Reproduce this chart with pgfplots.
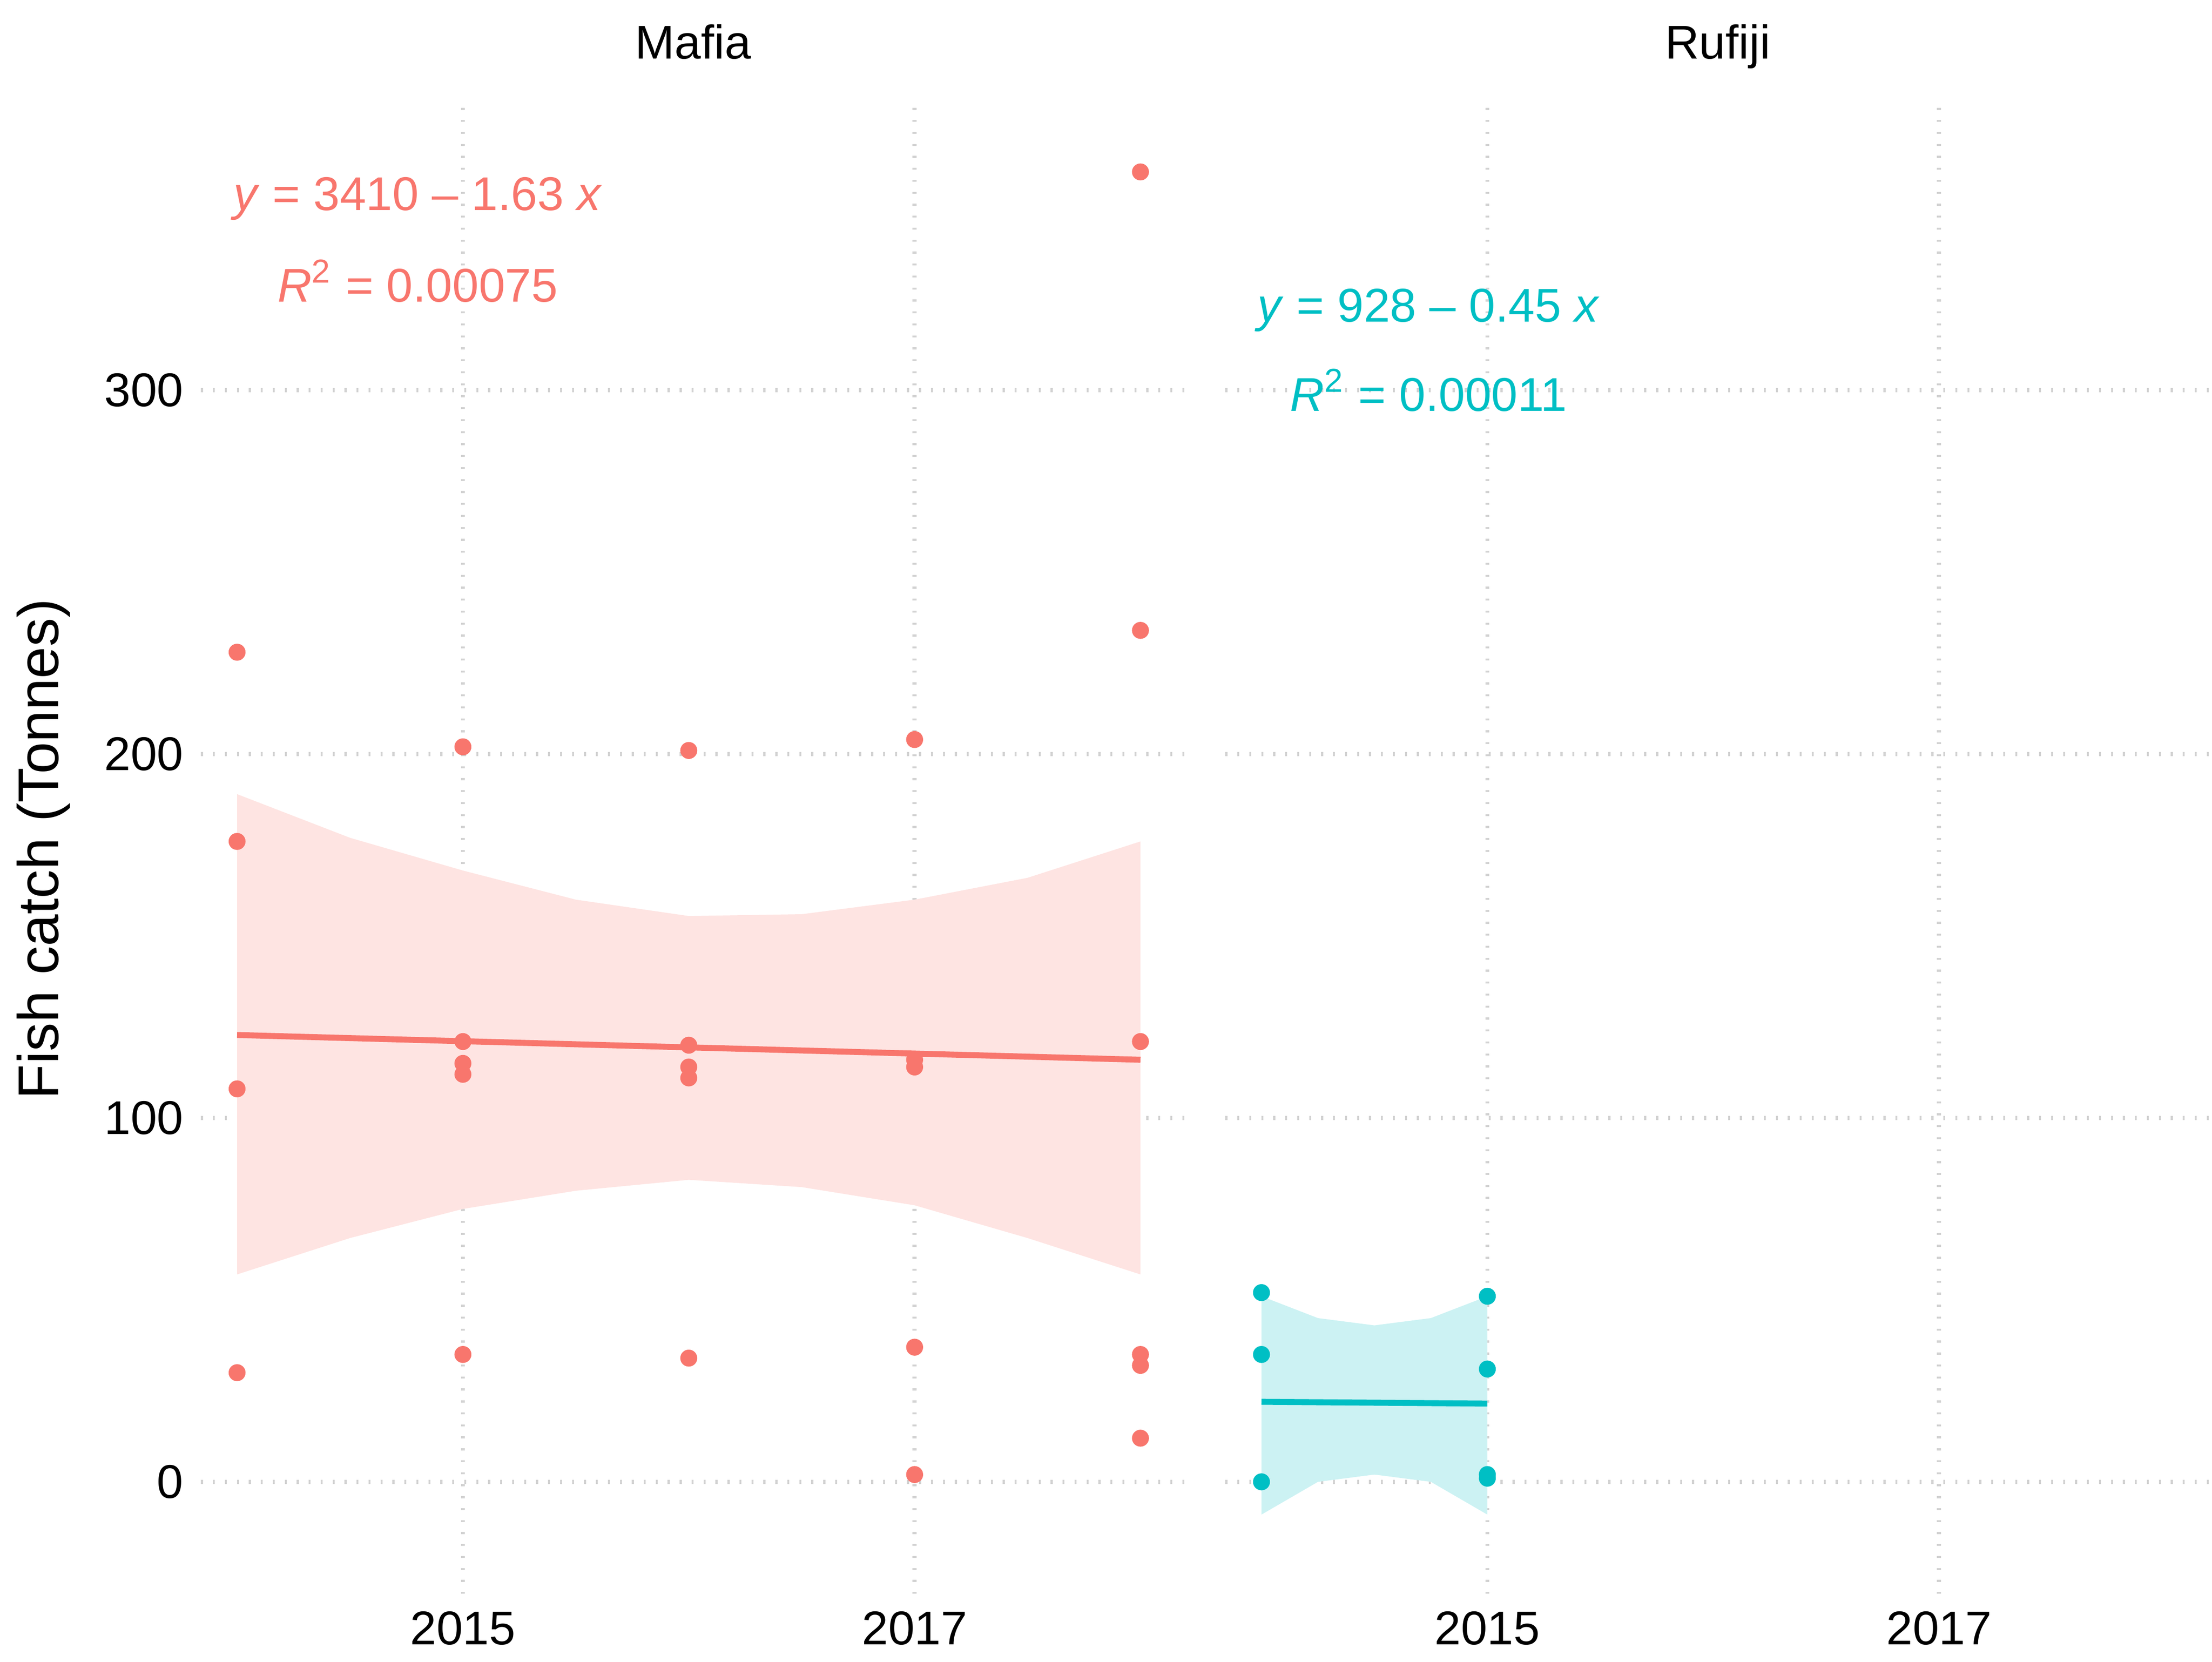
\documentclass[border=0pt]{standalone}
\usepackage{pgfplots}
\pgfplotsset{compat=1.18}
\usepackage{fontspec}
\setmainfont{Liberation Sans}
\definecolor{cA}{HTML}{F8766D}
\definecolor{cB}{HTML}{00BFC4}
\pgfplotsset{
 fp/.style={scale only axis, width=6.94cm, height=10.5cm,
  xmin=2013.84, xmax=2018.2, ymin=-30.8, ymax=378.6,
  axis line style={draw=none}, tick style={draw=none},
  xtick={2015,2017}, ytick={0,100,200,300},
  grid=major, major grid style={gray!35, dotted, line width=0.8pt},
  /pgf/number format/assume math mode=true,
  /pgf/number format/1000 sep={},
  tick label style={font=\fontsize{9.5}{11}\selectfont},
  title style={font=\fontsize{9.5}{11}\selectfont, text depth=0.3ex, text height=1.6ex, yshift=-2pt},
  clip=false}
}
\begin{document}
\begin{tikzpicture}
\begin{axis}[fp, title={Mafia}, ylabel={Fish catch (Tonnes)}, ylabel style={font=\fontsize{11.5}{14}\selectfont}]
\addplot[fill=cA!20, draw=none] coordinates {(2014,189)(2014.5,177)(2015,168)(2015.5,160)(2016,155.5)(2016.5,156)(2017,160)(2017.5,166)(2018,176)
 (2018,57)(2017.5,67)(2017,76)(2016.5,81)(2016,83)(2015.5,80)(2015,75)(2014.5,67)(2014,57)} -- cycle;
\addplot[cA, line width=1.2pt] coordinates {(2014,122.8)(2018,116)};
\addplot[only marks, mark=*, mark size=1.5pt, color=cA] coordinates {
(2014,228)(2014,176)(2014,108)(2014,30)
(2015,202)(2015,121)(2015,115)(2015,112)(2015,35)
(2016,201)(2016,120)(2016,114)(2016,111)(2016,34)
(2017,204)(2017,116)(2017,114)(2017,37)(2017,2)
(2018,360)(2018,234)(2018,121)(2018,35)(2018,32)(2018,12)};
\node[cA, font=\fontsize{9.5}{11}\selectfont] at (axis cs:2014.8,352.6) {\textit{y} = 3410 – 1.63 \textit{x}};
\node[cA, font=\fontsize{9.5}{11}\selectfont] at (axis cs:2014.8,330) {\textit{R}\textsuperscript{2} = 0.00075};
\end{axis}
\begin{axis}[fp, at={(7.22cm,0)}, title={Rufiji}, yticklabels={}]
\addplot[fill=cB!20, draw=none] coordinates {(2014,51)(2014.25,45)(2014.5,43)(2014.75,45)(2015,51)
 (2015,-9)(2014.75,0)(2014.5,2)(2014.25,0)(2014,-9)} -- cycle;
\addplot[cB, line width=1.2pt] coordinates {(2014,22)(2015,21.5)};
\addplot[only marks, mark=*, mark size=1.5pt, color=cB] coordinates {
(2014,52)(2014,35)(2014,0)(2015,51)(2015,31)(2015,2)(2015,1)};
\node[cB, font=\fontsize{9.5}{11}\selectfont] at (axis cs:2014.74,322) {\textit{y} = 928 – 0.45 \textit{x}};
\node[cB, font=\fontsize{9.5}{11}\selectfont] at (axis cs:2014.74,300) {\textit{R}\textsuperscript{2} = 0.00011};
\end{axis}
\end{tikzpicture}
\end{document}
